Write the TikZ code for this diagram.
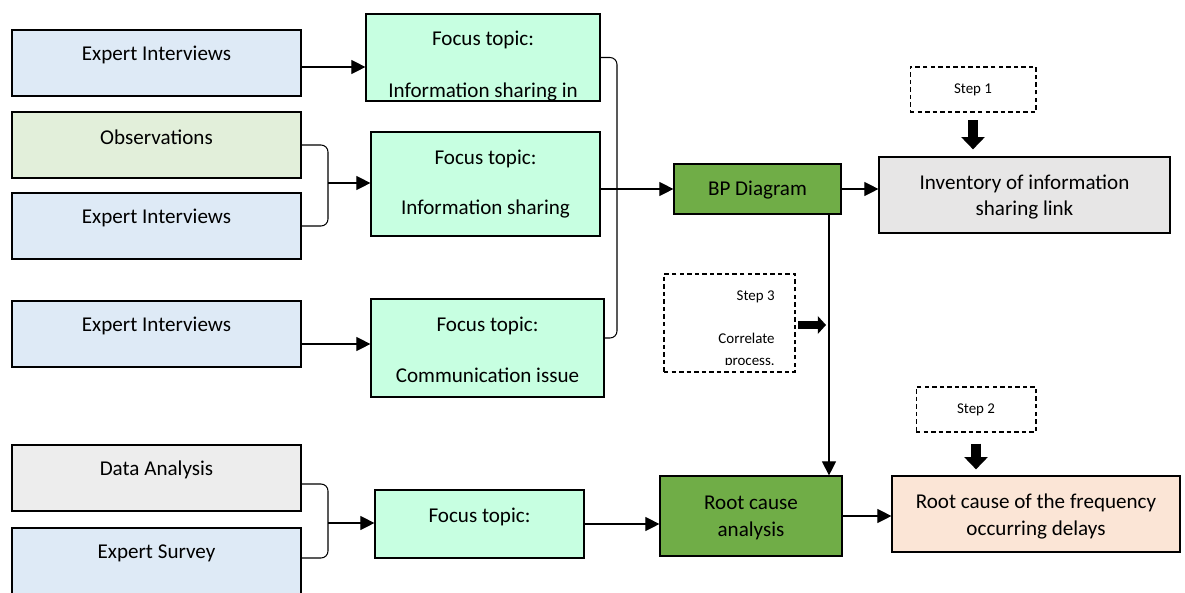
\documentclass[tikz,border=0pt]{standalone}
\usepackage{fontspec}
\setmainfont{Carlito}
\usepackage{tikz}
\usetikzlibrary{arrows.meta, positioning}

\definecolor{srcblue}{HTML}{DEEAF6}
\definecolor{srcgreen}{HTML}{E2EFDA}
\definecolor{srcgray}{HTML}{EDEDED}
\definecolor{mint}{HTML}{C7FFE1}
\definecolor{darkgreen}{HTML}{70AD47}
\definecolor{invgray}{HTML}{E7E6E6}
\definecolor{peach}{HTML}{FBE5D6}

\tikzset{
  box/.style={draw, line width=0.7pt, inner sep=0pt},
  src/.style={box, minimum width=5.78cm, minimum height=1.32cm},
  stepbox/.style={draw, dashed, dash pattern=on 2.5pt off 1.8pt, line width=0.6pt, inner sep=0pt},
  txt/.style={font=\fontsize{12}{15.3}\selectfont, align=center, inner sep=0pt},
  small/.style={font=\fontsize{8.5}{12.5}\selectfont, inner sep=0pt},
  arr/.style={line width=0.6pt, -{Triangle[length=8pt, width=8pt]}},
  fat/.style={line width=5.5pt, -{Triangle[length=7pt, width=13pt]}},
  fatsmall/.style={line width=4.5pt, -{Triangle[length=4.7pt, width=10pt]}},
}

\begin{document}
\begin{tikzpicture}[x=0.02cm, y=-0.02cm]
            \clip (0,0) rectangle (1185,592);

            % Source boxes
            \node[src, fill=srcblue] (ei1) at (156.5, 63) {};
            \node[src, fill=srcgreen] (obs) at (156.5, 145) {};
            \node[src, fill=srcblue] (ei2) at (156.5, 226) {};
            \node[src, fill=srcblue] (ei3) at (156.5, 334) {};
            \node[src, fill=srcgray] (da) at (156.5, 478) {};
            \node[src, fill=srcblue] (es) at (156.5, 561) {};
            \node[txt] (ei1-t) at ([yshift=-0.51cm]ei1.north) {Expert Interviews};
            \node[txt] (obs-t) at ([yshift=-0.52cm]obs.north) {Observations};
            \node[txt] (ei2-t) at ([yshift=-0.51cm]ei2.north) {Expert Interviews};
            \node[txt] (ei3-t) at ([yshift=-0.52cm]ei3.north) {Expert Interviews};
            \node[txt] (da-t) at ([yshift=-0.51cm]da.north) {Data Analysis};
            \node[txt] (es-t) at ([yshift=-0.52cm]es.north) {Expert Survey};

            % Focus topics
            \node[box, fill=mint, minimum width=4.68cm, minimum height=1.74cm] (f1) at (483, 57.5) {};
            \node[box, fill=mint, minimum width=4.58cm, minimum height=2.08cm] (f2) at (485.5, 184) {};
            \node[box, fill=mint, minimum width=4.66cm, minimum height=1.96cm] (f3) at (487.5, 348) {};
            \node[box, fill=mint, minimum width=4.18cm, minimum height=1.36cm] (f4) at (479.5, 524) {};
            \node[txt] (f1-a) at ([yshift=-0.54cm]f1.north) {Focus topic:};
            \begin{scope}
              \clip ([shift={(0.03cm,0.05cm)}]f1.south west) rectangle ([shift={(-0.03cm,-0.03cm)}]f1.north east);
              \node[txt] (f1-b) at ([yshift=-1.58cm]f1.north) {Information sharing in};
            \end{scope}
            \node[txt] (f2-a) at ([yshift=-0.55cm]f2.north) {Focus topic:};
            \node[txt] (f2-b) at ([yshift=-1.55cm]f2.north) {Information sharing};
            \node[txt] (f3-a) at ([yshift=-0.55cm]f3.north) {Focus topic:};
            \node[txt] (f3-b) at ([yshift=-1.53cm]f3.north) {Communication issue};
            \node[txt] (f4-a) at ([yshift=-0.55cm]f4.north) {Focus topic:};

            % Results
            \node[box, fill=darkgreen, minimum width=3.34cm, minimum height=1.0cm] (bp) at (757.5, 189) {};
            \node[box, fill=invgray, minimum width=5.82cm, minimum height=1.52cm] (inv) at (1024.5, 195) {};
            \node[box, fill=darkgreen, minimum width=3.64cm, minimum height=1.6cm] (rca) at (751, 516) {};
            \node[box, fill=peach, minimum width=5.76cm, minimum height=1.52cm] (rcf) at (1036, 514) {};
            \node[txt] (bp-t) at ([yshift=-0.03cm]bp.center) {BP Diagram};
            \node[txt] (inv-t) at ([yshift=-0.04cm]inv.center) {Inventory of information\\sharing link};
            \node[txt] (rca-t) at ([yshift=-0.04cm]rca.center) {Root cause\\analysis};
            \node[txt] (rcf-t) at ([yshift=-0.05cm]rcf.center) {Root cause of the frequency\\occurring delays};

            % Steps
            \node[stepbox, small, minimum width=2.52cm, minimum height=0.9cm] (step1) at (973, 89.5) {Step 1};
            \node[stepbox, small, minimum width=2.4cm, minimum height=0.9cm] (step2) at (976, 409.5) {Step 2};
            \node[stepbox, minimum width=2.62cm, minimum height=1.96cm] (step3) at (729.5, 323) {};
            \begin{scope}
              \clip ([shift={(0.03cm,0.17cm)}]step3.south west) rectangle ([shift={(-0.03cm,-0.03cm)}]step3.north east);
              \node[small, align=right, anchor=north east] (step3-t) at (775, 290) {Step 3\\[12.5pt]Correlate\\process.};
            \end{scope}

            % Joints
            \coordinate (j1) at (328, 183);
            \coordinate (j2) at (328, 523);
            \coordinate (b1) at (617, 338);
            \coordinate (v) at (829, 0);
            \coordinate (s3) at (826, 325);

            % Edges
            \draw[arr] ([yshift=-0.08cm]ei1.east) -- ([yshift=-0.08cm]ei1.east -| f1.west);
            \draw[line width=0.6pt, rounded corners=4pt] (obs.east) -- (obs.east -| j1) -- (ei2.east -| j1) -- (ei2.east);
            \draw[arr] (j1) -- (j1 -| f2.west);
            \draw[arr] ([yshift=-0.2cm]ei3.east) -- ([yshift=-0.2cm]ei3.east -| f3.west);
            \draw[line width=0.6pt, rounded corners=4pt] ([yshift=-0.12cm]da.east) -- ([yshift=-0.12cm]da.east -| j2) -- ([yshift=0.06cm]es.east -| j2) -- ([yshift=0.06cm]es.east);
            \draw[arr] (j2) -- (j2 -| f4.west);
            \draw[line width=0.6pt, rounded corners=4pt] (f1.east) -- (f1.east -| b1) -- (b1) -- (b1 -| f3.east);
            \draw[arr] (f2.east |- bp.west) -- (bp.west);
            \draw[arr] (bp.east) -- (bp.east -| inv.west);
            \draw[arr] (bp.south -| v) -- (rca.north -| v);
            \draw[arr] (f4.east) -- (f4.east -| rca.west);
            \draw[arr] (rca.east) -- (rca.east -| rcf.west);
            \draw[fat, shorten <=0.15cm, shorten >=0.14cm] (step1.south) -- (step1.south |- inv.north);
            \draw[fat, shorten <=0.22cm, shorten >=0.12cm] (step2.south) -- (step2.south |- rcf.north);
            \draw[fatsmall, shorten <=0.05cm] (step3.east |- s3) -- (s3);

\end{tikzpicture}
\end{document}
